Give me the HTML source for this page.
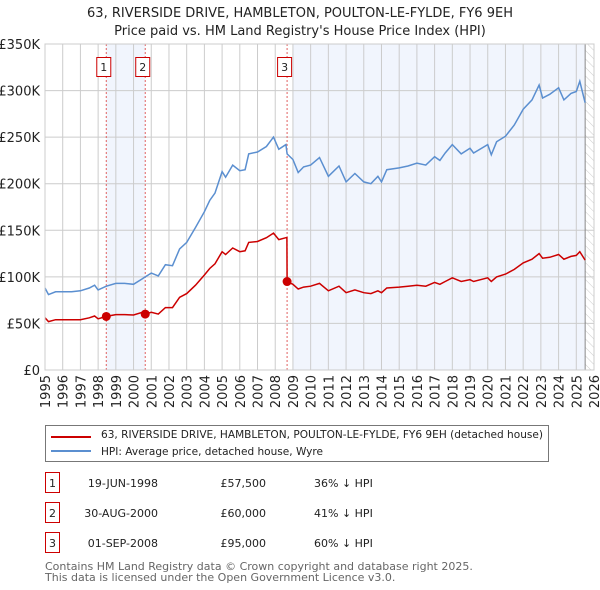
<!DOCTYPE html>
<html><head><meta charset="utf-8"><style>
body{margin:0;background:#fff;font-family:"Liberation Sans","DejaVu Sans",sans-serif;}
#wrap{position:relative;width:600px;height:590px;overflow:hidden;}
svg text{font-family:"DejaVu Sans","Liberation Sans",sans-serif;}
</style></head><body>
<div id="wrap">
<svg id="chart" width="600" height="590"></svg>
</div>
<script>
const hpiYears=[1995.0,1995.2,1995.6,1996.0,1996.5,1997.0,1997.5,1997.8,1998.0,1998.46,1999.0,1999.5,2000.0,2000.5,2000.66,2001.0,2001.4,2001.8,2002.2,2002.6,2003.0,2003.5,2004.0,2004.3,2004.6,2005.0,2005.2,2005.6,2006.0,2006.3,2006.5,2007.0,2007.5,2007.9,2008.2,2008.6,2008.67,2009.0,2009.3,2009.6,2010.0,2010.5,2011.0,2011.6,2012.0,2012.5,2013.0,2013.4,2013.8,2014.0,2014.3,2015.0,2015.5,2016.0,2016.5,2017.0,2017.3,2017.6,2018.0,2018.5,2019.0,2019.2,2020.0,2020.2,2020.5,2021.0,2021.5,2022.0,2022.5,2022.9,2023.1,2023.5,2024.0,2024.3,2024.7,2025.0,2025.2,2025.5];
const hpiValues=[88,81,84,84,84,85,88,91,86,90,93,93,92,98,100,104,101,113,112,130,137,153,170,182,190,213,207,220,214,215,232,234,240,250,237,242,232,226,212,218,220,228,208,219,202,211,202,200,208,202,215,217,219,222,220,229,225,233,242,232,238,233,242,231,245,251,263,280,290,306,292,296,303,290,297,299,310,287];
const redYears=[1995.0,1995.2,1995.6,1996.0,1996.5,1997.0,1997.5,1997.8,1998.0,1998.46,1999.0,1999.5,2000.0,2000.5,2000.66,2001.0,2001.4,2001.8,2002.2,2002.6,2003.0,2003.5,2004.0,2004.3,2004.6,2005.0,2005.2,2005.6,2006.0,2006.3,2006.5,2007.0,2007.5,2007.9,2008.2,2008.6,2008.66,2008.67,2009.0,2009.3,2009.6,2010.0,2010.5,2011.0,2011.6,2012.0,2012.5,2013.0,2013.4,2013.8,2014.0,2014.3,2015.0,2015.5,2016.0,2016.5,2017.0,2017.3,2017.6,2018.0,2018.5,2019.0,2019.2,2020.0,2020.2,2020.5,2021.0,2021.5,2022.0,2022.5,2022.9,2023.1,2023.5,2024.0,2024.3,2024.7,2025.0,2025.2,2025.5];
const redValues=[56,52,54,54,54,54,56,58,55,57.5,59.5,59.5,59,62,60,62,60,67,67,78,82,91,102,109,114,127,124,131,127,128,137,138,142,147,140,142,142,95,92,87,89,90,93,85,90,83,86,83,82,85,83,88,89,90,91,90,94,92,95,99,95,97,95,99,95,100,103,108,115,119,125,120,121,124,119,122,123,127,118];
const saleYears=[1998.46,2000.66,2008.67];
const salePrices=[57.5,60,95];
const saleLabels=["1","2","3"];
const yTicks=[0,50,100,150,200,250,300,350];
const yTickLabels=["£0","£50K","£100K","£150K","£200K","£250K","£300K","£350K"];
const xTicks=[1995,1996,1997,1998,1999,2000,2001,2002,2003,2004,2005,2006,2007,2008,2009,2010,2011,2012,2013,2014,2015,2016,2017,2018,2019,2020,2021,2022,2023,2024,2025,2026];

const NS="http://www.w3.org/2000/svg";
const svg=document.getElementById('chart');
const L=45,R=594,T=44,B=370,X0=1995,X1=2026,YMAX=350;
const xs=v=>L+(v-X0)/(X1-X0)*(R-L);
const ys=v=>B-v/YMAX*(B-T);
function mk(tag,attrs,parent){const e=document.createElementNS(NS,tag);for(const k in attrs)e.setAttribute(k,attrs[k]);(parent||svg).appendChild(e);return e;}
function txt(s,attrs,parent){const e=mk('text',attrs,parent);e.textContent=s;return e;}

let t1=txt("63, RIVERSIDE DRIVE, HAMBLETON, POULTON-LE-FYLDE, FY6 9EH",{x:300,y:17,'text-anchor':'middle','font-size':13,fill:'#222'});


let t2=txt("Price paid vs. HM Land Registry's House Price Index (HPI)",{x:300,y:35,'text-anchor':'middle','font-size':13,fill:'#222'});



let s1=mk('rect',{x:xs(saleYears[0]),y:T,width:xs(saleYears[1])-xs(saleYears[0]),height:B-T,fill:'#eef3fc',opacity:0.8});


let s2=mk('rect',{x:xs(2009),y:T,width:xs(2025.5)-xs(2009),height:B-T,fill:'#eef3fc',opacity:0.8});


const defs=mk('defs',{});
const pat=mk('pattern',{id:'hatch',width:6,height:6,patternUnits:'userSpaceOnUse',patternTransform:'rotate(-45)'},defs);
mk('line',{x1:0,y1:0,x2:0,y2:6,stroke:'#ccc','stroke-width':1},pat);
let hr=mk('rect',{x:xs(2025.5),y:T,width:R-xs(2025.5),height:B-T,fill:'url(#hatch)'});



yTicks.forEach((v,i)=>{
  const g=mk('line',{x1:L,x2:R,y1:ys(v),y2:ys(v),stroke:'#ccc','stroke-width':1});
  
  
  const lb=txt(yTickLabels[i],{x:L-5,y:ys(v)+5,'text-anchor':'end','font-size':13,fill:'#222'});
  
  
});
xTicks.forEach(v=>{
  const g=mk('line',{x1:xs(v),x2:xs(v),y1:T,y2:B,stroke:'#ccc','stroke-width':1});
  
  
  const lb=txt(String(v),{x:0,y:0,'text-anchor':'end','font-size':13,fill:'#222',transform:`translate(${xs(v)+5},${B+5}) rotate(-90)`});
  
  
});
let ab=mk('line',{x1:xs(2025.5),x2:xs(2025.5),y1:T,y2:B,stroke:'#888','stroke-width':1});



saleYears.forEach((v,i)=>{
  const d=mk('line',{x1:xs(v),x2:xs(v),y1:T,y2:B,stroke:'#e06060','stroke-width':1,'stroke-dasharray':'2,2'});
  
  
  const bx=mk('rect',{x:xs(v)-9.5,y:57.5,width:14,height:19,fill:'#fff',stroke:'#c00','stroke-width':1});
  
  
  const tl=txt(saleLabels[i],{x:xs(v)-2.5,y:71,'text-anchor':'middle','font-size':11,fill:'#222'});
  
  
});

function path(xa,ya){return xa.map((x,i)=>(i?'L':'M')+xs(x).toFixed(1)+','+ys(ya[i]).toFixed(1)).join(' ');}
let hp=mk('path',{d:path(hpiYears,hpiValues),fill:'none',stroke:'#5b8fd0','stroke-width':1.5});


let rp=mk('path',{d:path(redYears,redValues),fill:'none',stroke:'#cc0000','stroke-width':1.5});


saleYears.forEach((v,i)=>{
  const c=mk('circle',{cx:xs(v),cy:ys(salePrices[i]),r:4.5,fill:'#cc0000'});
  
  
});
let ax=mk('rect',{x:L,y:T,width:R-L,height:B-T,fill:'none',stroke:'#ccc','stroke-width':1});



const lg=mk('g',{});


mk('rect',{x:45.5,y:425.5,width:503,height:36,fill:'#fff',stroke:'#777','stroke-width':1},lg);
let l1=mk('line',{x1:51,x2:91,y1:437,y2:437,stroke:'#cc0000','stroke-width':2},lg);


let lt1=txt("63, RIVERSIDE DRIVE, HAMBLETON, POULTON-LE-FYLDE, FY6 9EH (detached house)",{x:101,y:438,'font-size':11,fill:'#222',textLength:442,lengthAdjust:'spacingAndGlyphs'},lg);


let l2=mk('line',{x1:51,x2:91,y1:451,y2:451,stroke:'#5b8fd0','stroke-width':2},lg);


let lt2=txt("HPI: Average price, detached house, Wyre",{x:101,y:455,'font-size':11,fill:'#222',textLength:222,lengthAdjust:'spacingAndGlyphs'},lg);



const rowDates=["19-JUN-1998","30-AUG-2000","01-SEP-2008"];
const rowPrices=["£57,500","£60,000","£95,000"];
const rowPct=["36% ↓ HPI","41% ↓ HPI","60% ↓ HPI"];
rowDates.forEach((d,i)=>{
  const y=483+i*30;
  const b=mk('rect',{x:45.5,y:y-10.5,width:14,height:20,fill:'#fff',stroke:'#c00','stroke-width':1});
  
  
  const n=txt(saleLabels[i],{x:52.5,y:y+4,'text-anchor':'middle','font-size':11,fill:'#222'});
  
  
  const a=txt(d,{x:158,y:y+4,'text-anchor':'end','font-size':11,fill:'#222'});
  
  
  const p=txt(rowPrices[i],{x:266,y:y+4,'text-anchor':'end','font-size':11,fill:'#222'});
  
  
  const q=txt(rowPct[i],{x:314,y:y+4,'font-size':11,fill:'#222'});
  
  
});
let f1=txt("Contains HM Land Registry data © Crown copyright and database right 2025.",{x:45,y:570,'font-size':11,fill:'#666'});


let f2=txt("This data is licensed under the Open Government Licence v3.0.",{x:45,y:581,'font-size':11,fill:'#666'});


</script>
</body></html>
